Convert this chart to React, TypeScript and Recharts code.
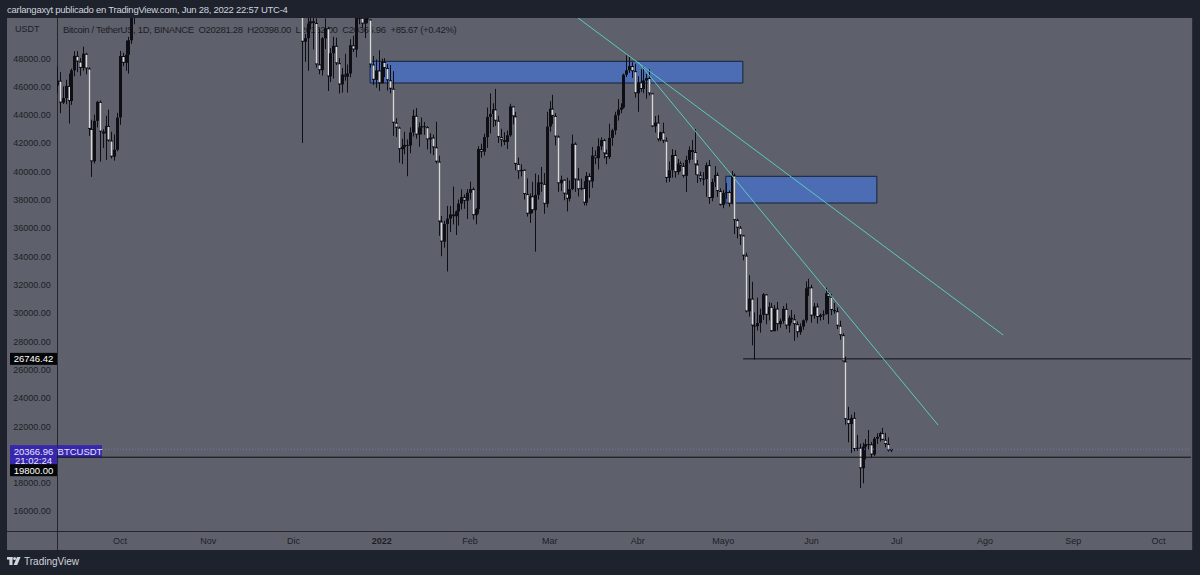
import { ComposedChart, Bar, XAxis, YAxis, ReferenceLine, ReferenceArea } from "recharts"

// BTCUSDT 1D (Binance), Sep 2021 - Jun 2022, as published on TradingView.
// Candles are [open, high, low, close] in thousands of USDT, one per day.

const sep2021 = [ // from Sep 9
  [46.06, 47.4, 45.5, 46.4], [46.4, 47.0, 44.1, 44.85], [44.85, 45.99, 44.75, 45.17], [45.17, 46.46, 44.74, 46.03],
  [46.03, 46.9, 43.37, 44.96], [44.96, 47.25, 44.69, 47.13], [47.13, 48.48, 46.7, 48.15], [48.15, 48.5, 47.0, 47.75],
  [47.75, 48.0, 46.75, 47.3], [47.3, 48.8, 47.1, 48.3], [48.3, 48.37, 46.85, 47.26], [47.26, 47.34, 42.5, 42.99],
  [42.99, 43.64, 39.6, 40.7], [40.7, 44.0, 40.55, 43.56], [43.56, 44.98, 43.1, 44.9], [44.9, 45.0, 40.68, 42.8],
  [42.8, 42.97, 41.65, 42.67], [42.67, 43.92, 40.8, 43.2], [43.2, 44.35, 42.1, 42.17], [42.17, 42.79, 40.9, 41.03],
  [41.03, 42.6, 40.75, 41.52], [41.52, 44.13, 41.41, 43.79],
]
const oct2021 = [ // Oct 1 - Oct 6, later candles sit above the visible range
  [43.8, 48.5, 43.28, 48.14], [48.14, 48.36, 47.42, 47.66], [47.66, 49.23, 47.1, 48.23], [48.23, 49.5, 46.9, 49.25],
  [49.25, 51.89, 49.0, 51.49], [51.49, 55.75, 50.38, 55.34],
]
const dec2021 = [ // from Dec 4
  [53.6, 53.9, 42.0, 49.15], [49.15, 49.7, 47.73, 49.4], [49.4, 50.9, 47.1, 50.44], [50.44, 51.94, 50.04, 50.59],
  [50.59, 51.2, 48.6, 50.47], [50.47, 50.8, 47.32, 47.55], [47.55, 50.1, 46.85, 47.14], [47.14, 49.48, 46.75, 49.39],
  [49.39, 50.8, 48.64, 50.1], [50.1, 50.2, 45.67, 46.7], [46.7, 48.7, 46.3, 48.34], [48.34, 49.5, 46.55, 48.86],
  [48.86, 49.44, 47.5, 47.63], [47.63, 47.99, 45.5, 46.13], [46.13, 47.3, 45.55, 46.83], [46.83, 48.3, 46.4, 46.68],
  [46.68, 47.54, 45.56, 46.91], [46.91, 49.33, 46.63, 48.9], [48.9, 49.57, 48.42, 48.6], [48.6, 51.38, 48.05, 50.82],
  [50.82, 51.81, 50.39, 50.84], [50.84, 51.16, 50.17, 50.43], [50.43, 51.28, 49.41, 50.8], [50.8, 52.09, 50.45, 50.72],
  [50.72, 50.72, 47.31, 47.54], [47.54, 48.14, 46.1, 46.46], [46.46, 47.9, 45.9, 47.12], [47.12, 48.55, 45.68, 46.22],
]
const jan2022 = [
  [46.22, 47.95, 46.2, 47.72], [47.72, 47.99, 46.65, 47.29], [47.29, 47.57, 45.7, 46.43], [46.43, 47.5, 45.5, 45.83],
  [45.83, 47.07, 42.5, 43.43], [43.43, 43.75, 42.43, 43.08], [43.08, 43.15, 40.61, 41.56], [41.56, 42.3, 40.5, 41.73],
  [41.73, 42.79, 41.2, 41.86], [41.86, 42.25, 39.65, 41.82], [41.82, 43.1, 41.27, 42.74], [42.74, 44.35, 42.45, 43.92],
  [43.92, 44.46, 42.3, 42.59], [42.59, 43.45, 41.73, 43.1], [43.1, 43.8, 42.6, 43.18], [43.18, 43.48, 42.58, 43.11],
  [43.11, 43.18, 41.54, 42.25], [42.25, 42.69, 41.25, 42.38], [42.38, 42.58, 41.14, 41.69], [41.69, 43.5, 40.55, 40.68],
  [40.68, 41.1, 35.44, 36.45], [36.45, 36.84, 34.0, 35.03], [35.03, 36.5, 34.6, 36.28], [36.28, 37.55, 32.92, 36.65],
  [36.65, 37.55, 35.7, 36.95], [36.95, 38.92, 36.24, 36.82], [36.82, 37.23, 35.5, 37.16], [37.16, 38.0, 36.16, 37.72],
  [37.72, 38.72, 37.3, 38.17], [38.17, 38.36, 37.35, 37.92], [37.92, 38.74, 36.63, 38.48],
]
const feb2022 = [
  [38.48, 39.27, 38.0, 38.74], [38.74, 38.86, 36.59, 36.9], [36.9, 37.39, 36.25, 37.32], [37.32, 41.77, 37.0, 41.57],
  [41.57, 41.94, 40.97, 41.38], [41.38, 42.66, 41.12, 42.41], [42.41, 44.5, 41.65, 43.84], [43.84, 45.5, 42.67, 44.04],
  [44.04, 44.8, 43.12, 44.37], [44.37, 45.82, 43.2, 43.57], [43.57, 43.92, 42.0, 42.41], [42.41, 43.0, 41.75, 42.2],
  [42.2, 42.76, 41.85, 42.07], [42.07, 42.88, 41.57, 42.54], [42.54, 44.77, 42.43, 44.58], [44.58, 44.58, 43.31, 43.88],
  [43.88, 44.2, 40.07, 40.52], [40.52, 40.96, 39.45, 40.0], [40.0, 40.49, 39.64, 40.1], [40.1, 40.14, 38.0, 38.39],
  [38.39, 39.5, 36.8, 37.0], [37.0, 38.43, 36.35, 38.23], [38.23, 39.25, 37.04, 37.25], [37.25, 39.84, 34.32, 38.33],
  [38.33, 39.73, 38.0, 39.21], [39.21, 40.3, 38.55, 39.11], [39.11, 39.87, 37.0, 37.7], [37.7, 44.2, 37.45, 43.16],
]
const mar2022 = [
  [43.16, 44.95, 42.8, 44.42], [44.42, 45.4, 43.33, 43.91], [43.91, 44.1, 41.83, 42.45], [42.45, 42.53, 38.55, 39.15],
  [39.15, 39.69, 38.6, 39.4], [39.4, 39.43, 37.95, 38.42], [38.42, 39.55, 37.16, 38.06], [38.06, 39.36, 37.87, 38.74],
  [38.74, 42.59, 38.66, 41.94], [41.94, 42.04, 38.54, 39.42], [39.42, 40.24, 38.22, 38.73], [38.73, 39.49, 38.66, 38.81],
  [38.81, 39.3, 37.58, 37.78], [37.78, 39.95, 37.58, 39.67], [39.67, 39.86, 38.1, 39.28], [39.28, 41.72, 38.83, 41.11],
  [41.11, 41.47, 40.5, 40.92], [40.92, 42.33, 40.13, 41.76], [41.76, 42.4, 41.5, 42.2], [42.2, 42.3, 40.9, 41.26],
  [41.26, 41.54, 40.5, 41.0], [41.0, 43.36, 40.87, 42.36], [42.36, 43.0, 41.8, 42.89], [42.89, 44.2, 42.57, 43.96],
  [43.96, 45.1, 43.58, 44.35], [44.35, 44.8, 44.1, 44.5], [44.5, 46.9, 44.42, 46.82], [46.82, 48.19, 46.66, 47.13],
  [47.13, 48.1, 46.95, 47.43], [47.43, 47.7, 46.6, 47.07], [47.07, 47.6, 45.2, 45.51],
]
const apr2022 = [
  [45.51, 46.72, 44.2, 46.28], [46.28, 47.21, 45.62, 45.81], [45.81, 47.44, 45.52, 46.41], [46.41, 46.89, 45.12, 46.58],
  [46.58, 47.2, 45.35, 45.5], [45.5, 45.5, 43.12, 43.17], [43.17, 43.9, 42.73, 43.44], [43.44, 43.97, 42.11, 42.25],
  [42.25, 42.8, 42.13, 42.75], [42.75, 43.43, 42.0, 42.16], [42.16, 42.41, 39.2, 39.53], [39.53, 40.7, 39.25, 40.07],
  [40.07, 41.56, 39.55, 41.15], [41.15, 41.5, 39.55, 39.94], [39.94, 40.86, 39.76, 40.55], [40.55, 40.7, 40.0, 40.38],
  [40.38, 40.6, 39.55, 39.68], [39.68, 41.1, 38.54, 40.8], [40.8, 41.76, 40.57, 41.5], [41.5, 42.2, 40.82, 41.36],
  [41.36, 42.98, 39.75, 40.48], [40.48, 40.8, 39.18, 39.71], [39.71, 39.98, 39.27, 39.47], [39.47, 39.94, 39.0, 39.45],
  [39.45, 40.62, 38.2, 40.43], [40.43, 40.8, 37.7, 38.11], [38.11, 39.47, 37.87, 39.24], [39.24, 40.37, 38.88, 39.74],
  [39.74, 39.92, 38.18, 38.6], [38.6, 38.8, 37.58, 37.63],
]
const may2022 = [
  [37.63, 38.68, 37.39, 38.47], [38.47, 39.17, 38.05, 38.53], [38.53, 38.65, 37.5, 37.71], [37.71, 40.02, 37.67, 39.7],
  [39.7, 39.85, 35.57, 36.55], [36.55, 36.65, 35.26, 36.01], [36.01, 36.13, 34.79, 35.47], [35.47, 35.5, 33.71, 34.04],
  [34.04, 34.24, 30.03, 30.1], [30.1, 32.66, 29.73, 31.0], [31.0, 32.19, 27.7, 29.1], [29.1, 30.03, 26.7, 29.05],
  [29.05, 31.08, 28.75, 29.28], [29.28, 30.3, 28.6, 29.86], [29.86, 31.4, 29.5, 31.3], [31.3, 31.3, 29.2, 29.86],
  [29.86, 30.75, 29.46, 30.42], [30.42, 30.7, 28.65, 28.7], [28.7, 30.55, 28.7, 30.3], [30.3, 30.77, 28.73, 29.2],
  [29.2, 29.6, 28.95, 29.43], [29.43, 30.48, 29.23, 30.28], [30.28, 30.67, 28.85, 29.1], [29.1, 29.82, 28.6, 29.65],
  [29.65, 30.2, 29.29, 29.54], [29.54, 29.88, 28.02, 29.2], [29.2, 29.4, 28.26, 28.63], [28.63, 29.25, 28.45, 29.03],
  [29.03, 29.53, 28.8, 29.47], [29.47, 32.22, 29.3, 31.73], [31.73, 32.4, 31.2, 31.8],
]
const jun2022 = [ // to Jun 29 (live candle)
  [31.8, 31.98, 29.3, 29.8], [29.8, 30.69, 29.59, 30.45], [30.45, 30.67, 29.24, 29.7], [29.7, 29.95, 29.45, 29.86],
  [29.86, 30.17, 29.5, 29.9], [29.9, 31.77, 29.88, 31.37], [31.37, 31.55, 29.22, 31.13], [31.13, 31.33, 29.84, 30.2],
  [30.2, 30.7, 29.94, 30.11], [30.11, 30.38, 28.85, 29.09], [29.09, 29.44, 28.1, 28.42], [28.42, 28.55, 26.56, 26.57],
  [26.57, 26.9, 22.1, 22.49], [22.49, 23.36, 20.85, 22.14], [22.14, 22.8, 20.1, 22.58], [22.58, 22.98, 20.23, 20.38],
  [20.38, 21.37, 20.25, 20.47], [20.47, 20.75, 17.62, 19.02], [19.02, 20.82, 17.96, 20.55], [20.55, 21.08, 19.64, 20.72],
  [20.72, 21.72, 20.35, 20.71], [20.71, 20.87, 19.77, 19.99], [19.99, 21.23, 19.89, 21.11], [21.11, 21.5, 20.74, 21.23],
  [21.23, 21.6, 20.9, 21.5], [21.5, 21.87, 21.0, 21.03], [21.03, 21.52, 20.5, 20.73], [20.73, 21.2, 20.2, 20.28],
  [20.28, 20.4, 20.16, 20.37],
]

// day index of each block's first candle, day 0 = 2021-09-09
const blockStarts = [0, 22, 86, 114, 145, 173, 204, 234, 265]
const blocks = [sep2021, oct2021, dec2021, jan2022, feb2022, mar2022, apr2022, may2022, jun2022]

const monthDays = [22, 53, 83, 114, 145, 173, 204, 234, 265, 295, 326, 357, 387]
const monthLabels = ["Oct", "Nov", "Dic", "2022", "Feb", "Mar", "Abr", "Mayo", "Jun", "Jul", "Ago", "Sep", "Oct"]
const priceTicks = [16000, 18000, 22000, 24000, 26000, 28000, 30000, 32000, 34000, 36000, 38000, 40000, 42000, 44000, 46000, 48000]

const lastPrice = 20366.96
const supportLow = 19800
const mayLow = 26746.42

const DARK = "#0d0f14"
const LIGHT = "#d6d8dd"
const TEAL = "#5cc9be"
const PANEL = "#5e616c"
const FONT = '"Liberation Sans", Arial, sans-serif'

const data = blocks.flatMap((rows, b) =>
  rows.map(([o, h, l, c], i) => ({
    t: blockStarts[b] + i,
    o: o * 1000,
    h: h * 1000,
    l: l * 1000,
    c: c * 1000,
    range: [l * 1000, h * 1000],
  }))
)

function Candle(props: any) {
  const { x, y, width, height, payload } = props
  if (!payload || !Number.isFinite(y)) return null
  const { o, h, l, c } = payload
  const top = Math.min(y, y + height)
  const span = Math.abs(height)
  const py = (v: number) => (h === l ? top : top + ((h - v) / (h - l)) * span)
  const cx = Math.round(x + width / 2)
  const up = c >= o
  const bt = py(Math.max(o, c))
  const bb = Math.max(py(Math.min(o, c)), bt + 1)
  return (
    <g>
      <rect x={cx} y={top} width={1} height={Math.max(span, 1)} fill={DARK} />
      <rect x={cx - 1} y={bt} width={3} height={bb - bt} fill={DARK} />
      {!up && bb - bt > 2 && <rect x={cx - 0.5} y={bt + 1} width={2} height={bb - bt - 2} fill={LIGHT} />}
    </g>
  )
}

function Badge({ viewBox, lines, bg, color, top, left = -47, w = 47 }: any) {
  if (!viewBox) return null
  const y0 = viewBox.y + top
  return (
    <g>
      <rect x={viewBox.x + left} y={y0} width={w} height={lines.length * 9 + 3} fill={bg} />
      {lines.map((s: string, i: number) => (
        <text key={i} x={viewBox.x + left + w / 2} y={y0 + 9.5 + i * 9} textAnchor="middle"
          fontSize={9.5} fontFamily={FONT} fill={color}>{s}</text>
      ))}
    </g>
  )
}

function TvLogo() {
  return (
    <svg width={14} height={9} style={{ marginRight: 3 }}>
      <rect x={0} y={0} width={5.5} height={2.6} fill="#d1d4dc" />
      <rect x={2.4} y={0} width={3.1} height={8} fill="#d1d4dc" />
      <circle cx={7.6} cy={1.6} r={1.5} fill="#d1d4dc" />
      <polygon points="10,0 13.6,0 10.2,8 6.6,8" fill="#d1d4dc" />
    </svg>
  )
}

export default function App() {
  return (
    <div style={{ position: "fixed", left: 0, top: 0, width: 1200, height: 575, background: "#1e222d", fontFamily: FONT, overflow: "hidden" }}>
      <div style={{ position: "absolute", left: 7, top: 4, fontSize: 9.5, letterSpacing: -0.25, color: "#d1d4dc" }}>
        carlangaxyt publicado en TradingView.com, Jun 28, 2022 22:57 UTC-4
      </div>

      <div style={{ position: "absolute", left: 7, top: 18, width: 1185, height: 532, background: PANEL, borderRight: "1px solid #2a2d36" }}>
        <div style={{ position: "absolute", left: 50, top: 0, width: 1, height: 532, background: "#23262f" }} />
        <div style={{ position: "absolute", left: 0, top: 513, width: 1185, height: 1, background: "#23262f" }} />
        <div style={{ position: "absolute", left: 8, top: 6, fontSize: 9, color: "#1c1e25" }}>USDT</div>
        <div style={{ position: "absolute", left: 56, top: 6, fontSize: 9.5, letterSpacing: -0.32, color: "#1c1e25", whiteSpace: "pre" }}>
          {"Bitcoin / TetherUS, 1D, BINANCE  O20281.28  H20398.00  L20162.00  C20366.96  +85.67 (+0.42%)"}
        </div>
      </div>

      <div style={{ position: "absolute", left: 7, top: 18 }}>
        <ComposedChart width={1186} height={532} data={data} margin={{ top: 0, right: 2, bottom: 0, left: 0 }}>
          <XAxis type="number" dataKey="t" domain={[-0.14, 398.4]} allowDataOverflow ticks={monthDays} interval={0}
            height={19} axisLine={false} tickLine={false}
            tick={(p: any) => (
              <text x={p.x} y={526} textAnchor="middle" fontSize={9} fontFamily={FONT} fill="#1c1e25"
                fontWeight={p.payload.value === 114 ? 700 : 400}>
                {monthLabels[monthDays.indexOf(p.payload.value)]}
              </text>
            )} />
          <YAxis type="number" domain={[14587, 50826]} allowDataOverflow ticks={priceTicks} interval={0}
            width={50} axisLine={false} tickLine={false}
            tick={(p: any) => (
              <text x={25} y={p.y + 3.5} textAnchor="middle" fontSize={9} fontFamily={FONT} fill="#1c1e25">
                {p.payload.value.toFixed(2)}
              </text>
            )} />

          <ReferenceArea x1={109.9} x2={240.9} y1={46234} y2={47767} fill="#4c6db3" fillOpacity={1} stroke="#16213b" strokeWidth={1} />
          <ReferenceArea x1={234.9} x2={288} y1={37757} y2={39643} fill="#4c6db3" fillOpacity={1} stroke="#16213b" strokeWidth={1} />

          <ReferenceLine y={lastPrice} stroke="#7073b0" strokeDasharray="1 2" strokeWidth={1}
            label={(p: any) => (
              <g>
                <Badge viewBox={p.viewBox} lines={["20366.96", "21:02:24"]} bg="#3727ad" color="#e6e3ff" top={-4} />
                <Badge viewBox={p.viewBox} lines={["BTCUSDT"]} bg="#3727ad" color="#e6e3ff" top={-4} left={1} w={44} />
              </g>
            )} />
          <ReferenceLine y={supportLow} stroke={DARK} strokeWidth={1}
            label={(p: any) => <Badge viewBox={p.viewBox} lines={["19800.00"]} bg="#050608" color="#ffffff" top={7} />} />
          <ReferenceLine y={mayLow} stroke="none"
            label={(p: any) => <Badge viewBox={p.viewBox} lines={["26746.42"]} bg="#050608" color="#ffffff" top={-6} />} />
          <ReferenceLine segment={[{ x: 241, y: mayLow }, { x: 398.4, y: mayLow }]} stroke={DARK} strokeWidth={1} ifOverflow="hidden" />

          <Bar dataKey="range" barSize={3} shape={Candle} isAnimationActive={false} />

          <ReferenceLine segment={[{ x: 183, y: 50826 }, { x: 332.4, y: 28433 }]} stroke={TEAL} strokeWidth={1} ifOverflow="hidden" />
          <ReferenceLine segment={[{ x: 204.1, y: 47717 }, { x: 309.5, y: 22075 }]} stroke={TEAL} strokeWidth={1} ifOverflow="hidden" />
        </ComposedChart>
      </div>

      <div style={{ position: "absolute", left: 7, top: 556, display: "flex", alignItems: "center", fontSize: 10, color: "#d1d4dc" }}>
        <TvLogo />
        TradingView
      </div>
    </div>
  )
}
